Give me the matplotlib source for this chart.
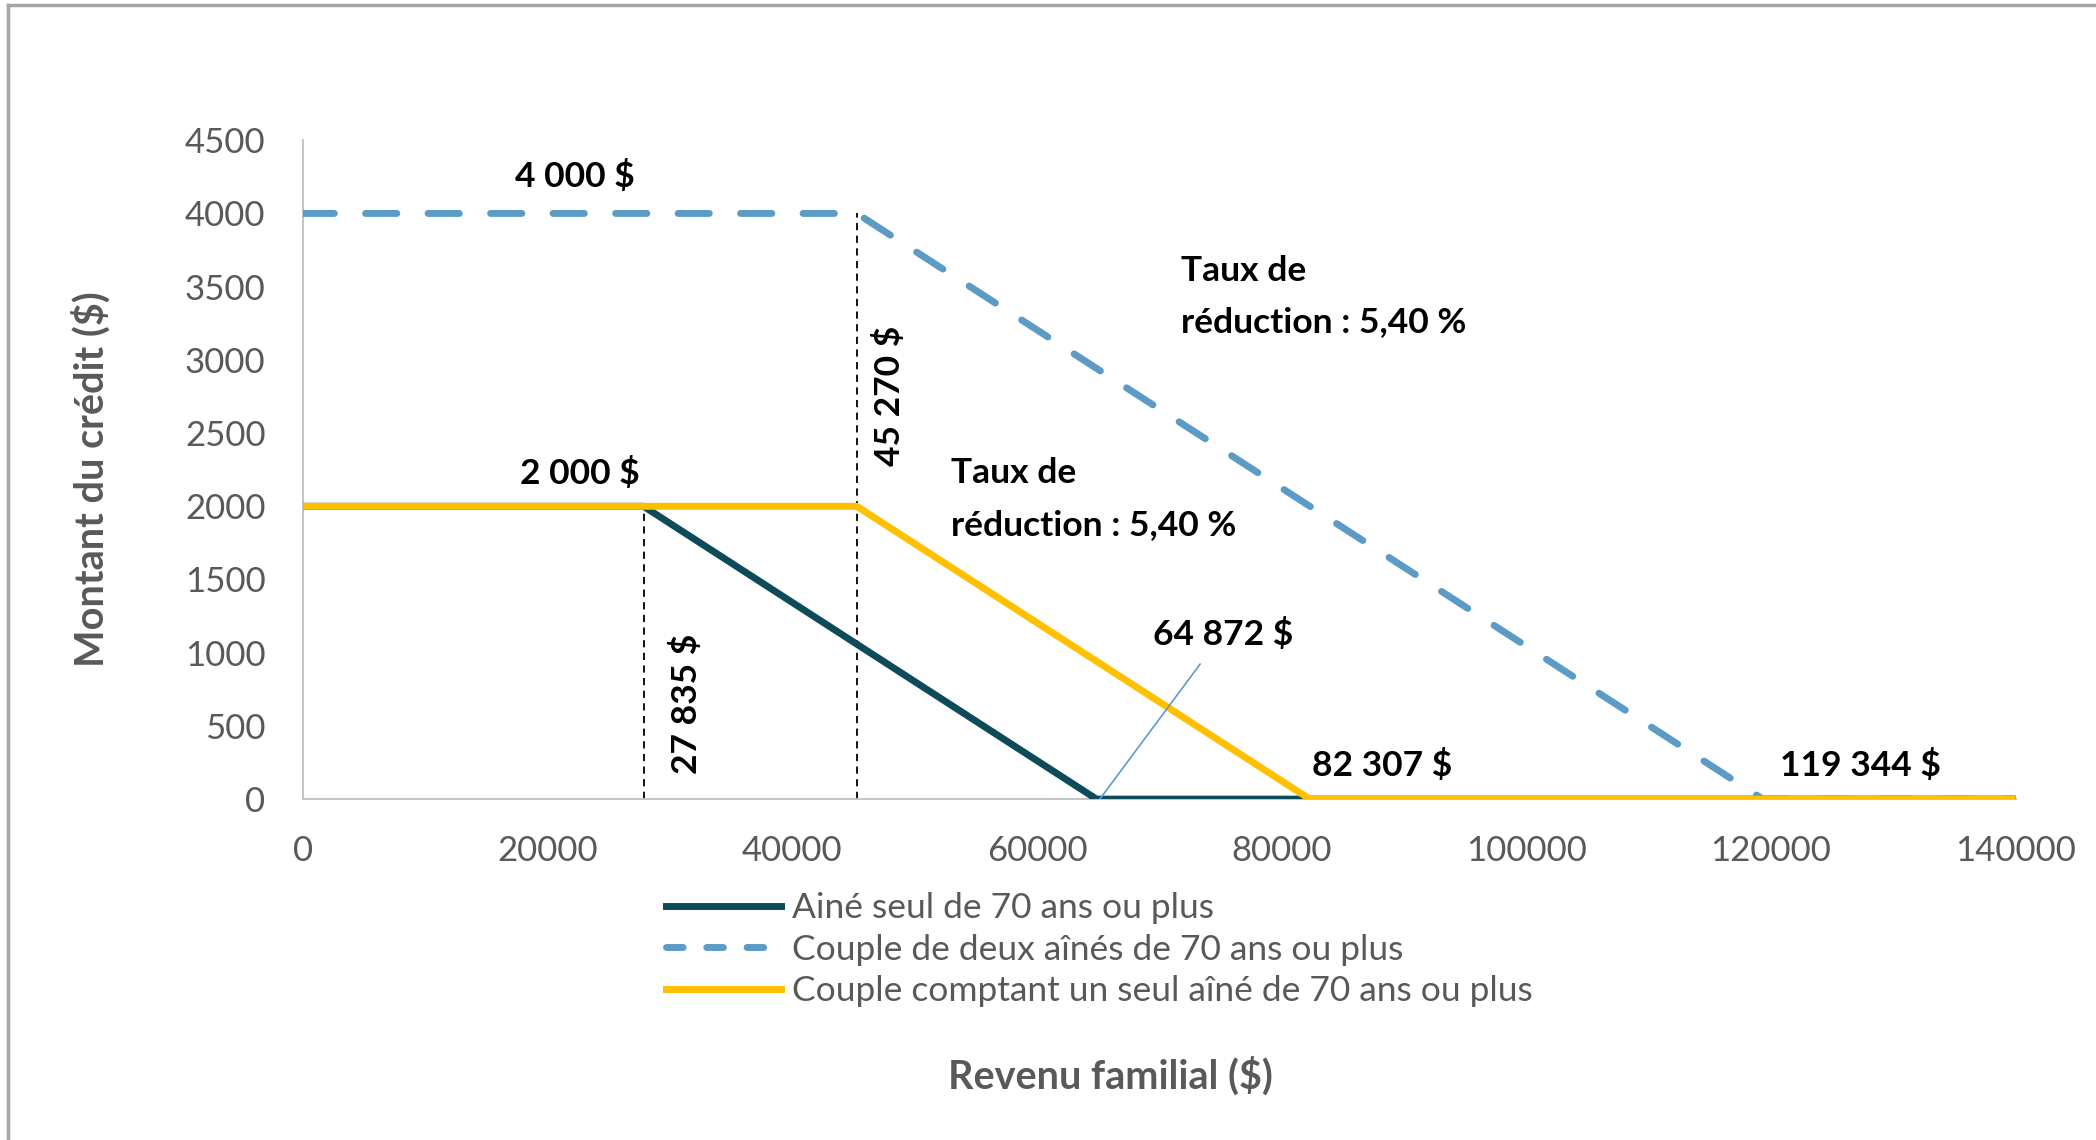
import matplotlib.pyplot as plt
from matplotlib.lines import Line2D

plt.rcParams['font.family'] = ['Lato', 'DejaVu Sans']

# Revenu familial ($) aux points de rupture, montant du credit ($)
x_seul = [0, 27835, 64872, 140000]
y_seul = [2000, 2000, 0, 0]
x_deux = [0, 45270, 119344, 140000]
y_deux = [4000, 4000, 0, 0]
x_un = [0, 45270, 82307, 140000]
y_un = [2000, 2000, 0, 0]

labels = ['Ainé seul de 70 ans ou plus',
          'Couple de deux aînés de 70 ans ou plus',
          'Couple comptant un seul aîné de 70 ans ou plus']

seuils = [27835, 45270]
seuil_haut = [2000, 4000]

c_seul = '#0E4B5A'
c_deux = '#5B9BC5'
c_un = '#FFC000'
gris = '#595959'

fig = plt.figure(figsize=(20.96, 11.40), dpi=100)
ax = fig.add_axes([0.1446, 0.299, 0.817, 0.578])

ax.plot(x_seul, y_seul, color=c_seul, lw=5, solid_capstyle='butt', label=labels[0], zorder=3)
ax.plot(x_deux, y_deux, color=c_deux, lw=5, dashes=(4.5, 4.5), dash_capstyle='round',
        label=labels[1], zorder=3)
ax.plot(x_un, y_un, color=c_un, lw=5, solid_capstyle='butt', label=labels[2], zorder=4)

for xs, yh in zip(seuils, seuil_haut):
    ax.plot([xs, xs], [0, yh], color='black', lw=1.3, dashes=(4, 3), zorder=2)

ax.set_xlim(0, 140000)
ax.set_ylim(0, 4500)
ax.set_xticks(range(0, 140001, 20000))
ax.set_yticks(range(0, 4501, 500))
ax.tick_params(length=0, labelsize=25, labelcolor=gris)
ax.tick_params(axis='x', pad=26)
ax.tick_params(axis='y', pad=27)
for s in ['top', 'right']:
    ax.spines[s].set_visible(False)
for s in ['left', 'bottom']:
    ax.spines[s].set_color('#BFBFBF')
    ax.spines[s].set_linewidth(1.3)

fs = 25.5
bold = dict(fontsize=fs, fontweight='bold', color='black')
ax.text(22186, 4254, '4 000 $', ha='center', va='center', **bold)
ax.text(22623, 2227, '2 000 $', ha='center', va='center', **bold)
ax.text(47979, 2757, '45 270 $', rotation=90, ha='center', va='center', **bold)
ax.text(31366, 648, '27 835 $', rotation=90, ha='center', va='center', **bold)
ax.text(71804, 3432, 'Taux de\nréduction : 5,40 %', ha='left', va='center', linespacing=1.75, **bold)
ax.text(53005, 2049, 'Taux de\nréduction : 5,40 %', ha='left', va='center', linespacing=1.75, **bold)
ax.text(75192, 1123, '64 872 $', ha='center', va='center', **bold)
ax.text(88197, 228, '82 307 $', ha='center', va='center', **bold)
ax.text(127322, 228, '119 344 $', ha='center', va='center', **bold)
ax.plot([65138, 73335], [0, 922], color='#5B9BD5', lw=1.2, zorder=5)

handles = [Line2D([], [], color=c_seul, lw=5),
           Line2D([], [], color=c_deux, lw=5, dashes=(2.4, 3.4), dash_capstyle='round'),
           Line2D([], [], color=c_un, lw=5)]
fig.legend(handles, labels, loc='upper left', bbox_to_anchor=(0.311, 0.230),
           frameon=False, fontsize=25.5, handlelength=3.25, handletextpad=0.3,
           labelspacing=0.27, labelcolor=gris, borderaxespad=0)

fig.text(0.0434, 0.580, 'Montant du crédit ($)', rotation=90, ha='center', va='center',
         fontsize=28.5, fontweight='bold', color=gris)
fig.text(0.5296, 0.056, 'Revenu familial ($)', ha='center', va='center',
         fontsize=28.5, fontweight='bold', color=gris)

# cadre du graphique
fig.add_artist(Line2D([8 / 2096, 1], [1 - 5 / 1140, 1 - 5 / 1140], color='#A6A6A6', lw=2.5))
fig.add_artist(Line2D([8 / 2096, 8 / 2096], [0, 1 - 5 / 1140], color='#A6A6A6', lw=2.5))

fig.savefig('out.png', dpi=100)
